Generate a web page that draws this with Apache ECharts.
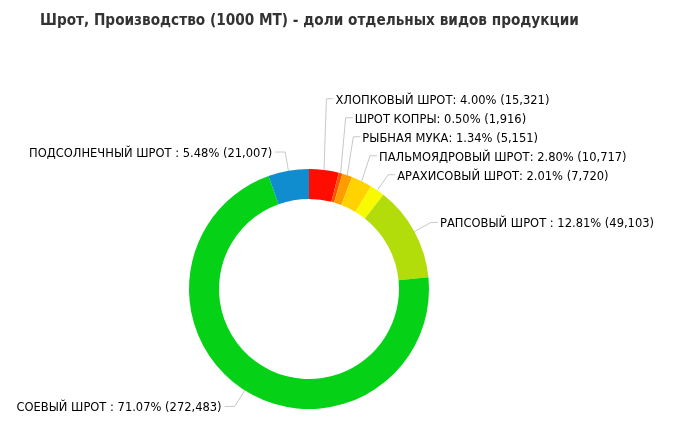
<!DOCTYPE html>
<html>
<head>
<meta charset="utf-8">
<script src="https://cdn.jsdelivr.net/npm/echarts@6/dist/echarts.min.js"></script>
<style>
html,body{margin:0;padding:0;background:#fff;}
#chart{width:674px;height:442px;}
</style>
</head>
<body>
<div id="chart"></div>
<script>
const titleText = 'Шрот, Производство (1000 MT) - доли отдельных видов продукции';
const categories = ['ХЛОПКОВЫЙ ШРОТ', 'ШРОТ КОПРЫ', 'РЫБНАЯ МУКА', 'ПАЛЬМОЯДРОВЫЙ ШРОТ', 'АРАХИСОВЫЙ ШРОТ', 'РАПСОВЫЙ ШРОТ ', 'СОЕВЫЙ ШРОТ ', 'ПОДСОЛНЕЧНЫЙ ШРОТ '];
const values = [15321, 1916, 5151, 10717, 7720, 49103, 272483, 21007];
const colors = ['#ff0d00', '#ff5200', '#ff9c00', '#ffd200', '#f8fb00', '#b2dd0a', '#05d216', '#0f8dcf'];

const CX = 309, CY = 289, R_IN = 90, R_OUT = 120;
const R_ELBOW = 139, STEP = 19, TEXT_DY = 2;

const total = values.reduce((a, b) => a + b, 0);
const data = categories.map((c, i) => ({ name: c, value: values[i], itemStyle: { color: colors[i] } }));

// label geometry derived from the data
const geo = [];
let cum = 0;
values.forEach((v, i) => {
  const th = (cum + v / 2) / total * Math.PI * 2;
  cum += v;
  const s = Math.sin(th), c = Math.cos(th);
  geo.push({
    i: i,
    right: s >= 0,
    ax: CX + R_OUT * s, ay: CY - R_OUT * c,
    ex: CX + R_ELBOW * s, ey: CY - R_ELBOW * c
  });
});
[true, false].forEach(side => {
  const g = geo.filter(o => o.right === side).sort((a, b) => a.ey - b.ey);
  for (let k = g.length - 2; k >= 0; k--) {
    g[k].ey = Math.min(g[k].ey, g[k + 1].ey - STEP);
  }
});

const chart = echarts.init(document.getElementById('chart'));
chart.setOption({
  animation: false,
  title: {
    text: titleText,
    left: 35,
    top: 9,
    textStyle: { fontFamily: 'DejaVu Sans Condensed, Roboto', fontWeight: 'bold', fontSize: 15.2, color: '#333' }
  },
  series: [{
    type: 'pie',
    center: [CX, CY],
    radius: [R_IN, R_OUT],
    startAngle: 90,
    clockwise: true,
    silent: true,
    avoidLabelOverlap: false,
    data: data,
    itemStyle: { borderWidth: 0 },
    label: {
      show: true,
      position: 'outside',
      overflow: 'none',
      fontFamily: 'DejaVu Sans',
      fontSize: 11.5,
      color: '#000',
      formatter: function (p) {
        return p.name + ': ' + (p.value / total * 100).toFixed(2) + '% (' + p.value.toLocaleString('en-US') + ')';
      }
    },
    labelLine: {
      show: true,
      length: 17,
      length2: 10,
      lineStyle: { color: '#c8c8c8', width: 1 }
    },
    labelLayout: function (params) {
      const g = geo[params.dataIndex];
      const dir = g.right ? 1 : -1;
      const hLen = g.right ? 7 : 10;
      const gap = g.right ? 2 : 3;
      const hx = g.ex + dir * hLen;
      return {
        x: hx + dir * gap,
        y: g.ey + TEXT_DY,
        align: g.right ? 'left' : 'right',
        verticalAlign: 'middle',
        labelLinePoints: [[g.ax, g.ay], [g.ex, g.ey], [hx, g.ey]]
      };
    }
  }]
});
</script>
</body>
</html>
